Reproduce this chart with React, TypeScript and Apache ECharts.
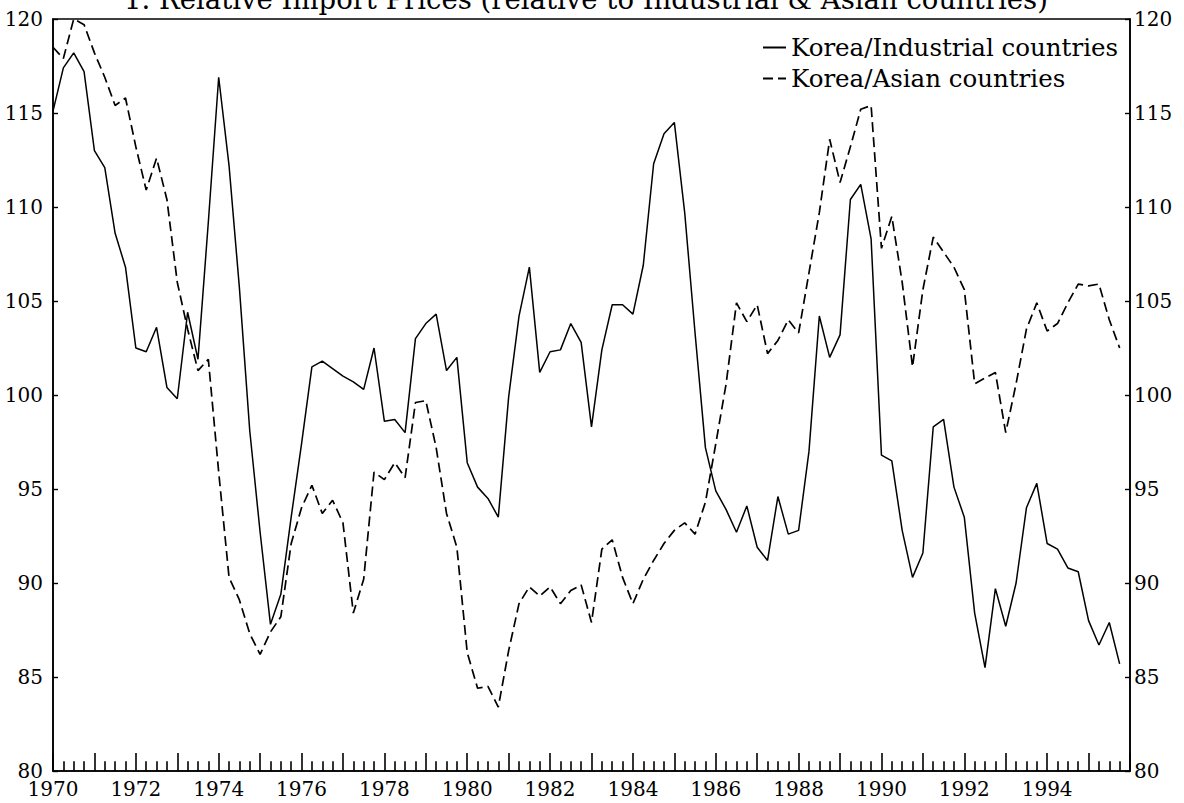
import React, { useEffect, useRef } from "react";
import * as echarts from "echarts";

const FONT = "DejaVu Serif";
const TITLE = "1. Relative Import Prices (relative to Industrial & Asian countries)";
const SERIES_NAMES = ["Korea/Industrial countries", "Korea/Asian countries"];
const START_YEAR = 1970;
const END_YEAR = 1996;
const Y_MIN = 80;
const Y_MAX = 120;

// Quarterly values, 1970Q1 .. 1995Q4
const industrial = [
  115.1, 117.4, 118.2, 117.2,
  113.0, 112.1, 108.6, 106.8,
  102.5, 102.3, 103.6, 100.4,
  99.8, 104.4, 101.9, 109.2,
  116.9, 112.2, 105.7, 98.1,
  92.7, 87.8, 89.4, 93.5,
  97.4, 101.5, 101.8, 101.4,
  101.0, 100.7, 100.3, 102.5,
  98.6, 98.7, 98.0, 103.0,
  103.8, 104.3, 101.3, 102.0,
  96.4, 95.1, 94.5, 93.5,
  99.9, 104.2, 106.8, 101.2,
  102.3, 102.4, 103.8, 102.8,
  98.3, 102.4, 104.8, 104.8,
  104.3, 106.9, 112.3, 113.9,
  114.5, 109.7, 103.3, 97.2,
  94.9, 93.9, 92.7, 94.1,
  91.9, 91.2, 94.6, 92.6,
  92.8, 97.0, 104.2, 102.0,
  103.2, 110.4, 111.2, 108.3,
  96.8, 96.5, 92.8, 90.3,
  91.6, 98.3, 98.7, 95.1,
  93.5, 88.4, 85.5, 89.7,
  87.7, 90.0, 94.0, 95.3,
  92.1, 91.8, 90.8, 90.6,
  88.0, 86.7, 87.9, 85.7,
];

const asian = [
  118.5, 117.9, 120.0, 119.7,
  118.2, 116.9, 115.4, 115.8,
  113.2, 110.9, 112.6, 110.4,
  106.0, 103.5, 101.3, 101.9,
  95.9, 90.3, 89.1, 87.3,
  86.2, 87.4, 88.2, 92.1,
  94.0, 95.2, 93.7, 94.4,
  93.2, 88.4, 90.2, 95.9,
  95.5, 96.4, 95.6, 99.6,
  99.7, 97.2, 93.7, 91.9,
  86.3, 84.4, 84.5, 83.4,
  86.4, 88.9, 89.8, 89.3,
  89.8, 88.9, 89.6, 89.9,
  87.9, 91.8, 92.3, 90.3,
  88.9, 90.2, 91.2, 92.1,
  92.8, 93.2, 92.6, 94.3,
  97.4, 100.6, 104.9, 103.9,
  104.8, 102.2, 102.9, 104.0,
  103.3, 106.5, 109.7, 113.6,
  111.3, 113.2, 115.2, 115.4,
  107.8, 109.5, 106.0, 101.5,
  105.6, 108.4, 107.6, 106.8,
  105.6, 100.6, 100.9, 101.2,
  98.0, 100.6, 103.5, 104.9,
  103.4, 103.8, 104.9, 105.9,
  105.8, 105.9, 104.0, 102.5,
];

const toPairs = (vals: number[]) => vals.map((v, i) => [START_YEAR + i / 4, v]);

// quarter (minor) tick positions on the time axis
const quarterTicks: number[] = [];
for (let y = START_YEAR; y < END_YEAR; y++) {
  for (let q = 1; q < 4; q++) quarterTicks.push(y + q / 4);
}
const MINOR_TICK_UNITS = 0.52; // tick height expressed in y-axis units

export default function App() {
  const ref = useRef<HTMLDivElement>(null);
  useEffect(() => {
    document.body.style.margin = "0";
    const chart = echarts.init(ref.current!, null, { renderer: "svg" });
    const axisLine = { show: true, lineStyle: { color: "#000", width: 1.6 } };
    const yLabel = { fontFamily: FONT, fontSize: 20, color: "#000" };
    chart.setOption({
      animation: false,
      backgroundColor: "#fff",
      textStyle: { fontFamily: FONT, color: "#000" },
      grid: {
        left: 53,
        right: 54,
        top: 19,
        bottom: 32,
        show: true,
        borderColor: "#000",
        borderWidth: 1.6,
      },
      graphic: [
        {
          type: "text",
          x: 586,
          y: -1,
          style: {
            text: TITLE,
            font: `27.5px "${FONT}"`,
            fill: "#000",
            textAlign: "center",
            textVerticalAlign: "middle",
          },
        },
      ],
      legend: {
        orient: "vertical",
        left: 762,
        top: 35,
        padding: 0,
        itemGap: 6,
        itemWidth: 23,
        itemHeight: 12,
        data: SERIES_NAMES,
        itemStyle: { opacity: 0, borderWidth: 0 },
        textStyle: { fontFamily: FONT, fontSize: 24.5, color: "#000" },
      },
      xAxis: {
        type: "value",
        min: START_YEAR,
        max: END_YEAR,
        interval: 1,
        axisLine,
        axisTick: { show: true, inside: true, length: 18, lineStyle: { color: "#000", width: 1.6 } },
        splitLine: { show: false },
        axisLabel: {
          fontFamily: FONT,
          fontSize: 20,
          color: "#000",
          margin: 8,
          formatter: (v: number) => (v % 2 === 0 && v < END_YEAR ? String(v) : ""),
        },
      },
      yAxis: [
        {
          type: "value",
          min: Y_MIN,
          max: Y_MAX,
          interval: 5,
          position: "left",
          axisLine,
          axisTick: { show: true, inside: true, length: 5, lineStyle: { color: "#000", width: 1.4 } },
          splitLine: { show: false },
          axisLabel: { ...yLabel, margin: 10 },
        },
        {
          type: "value",
          min: Y_MIN,
          max: Y_MAX,
          interval: 5,
          position: "right",
          axisLine,
          axisTick: { show: true, inside: true, length: 5, lineStyle: { color: "#000", width: 1.4 } },
          splitLine: { show: false },
          axisLabel: { ...yLabel, margin: 4 },
        },
      ],
      series: [
        {
          name: SERIES_NAMES[0],
          type: "line",
          yAxisIndex: 0,
          data: toPairs(industrial),
          symbol: "none",
          lineStyle: { color: "#000", width: 1.5, type: "solid" },
          itemStyle: { color: "#000" },
          markLine: {
            silent: true,
            symbol: ["none", "none"],
            label: { show: false },
            lineStyle: { color: "#000", width: 1.6, type: "solid" },
            data: quarterTicks.map((t) => [
              { coord: [t, Y_MIN] },
              { coord: [t, Y_MIN + MINOR_TICK_UNITS] },
            ]),
          },
        },
        {
          name: SERIES_NAMES[1],
          type: "line",
          yAxisIndex: 0,
          data: toPairs(asian),
          symbol: "none",
          lineStyle: { color: "#000", width: 1.7, type: [10, 5] },
          itemStyle: { color: "#000" },
        },
      ],
    });
    return () => chart.dispose();
  }, []);
  return <div ref={ref} style={{ width: 1184, height: 803 }} />;
}
